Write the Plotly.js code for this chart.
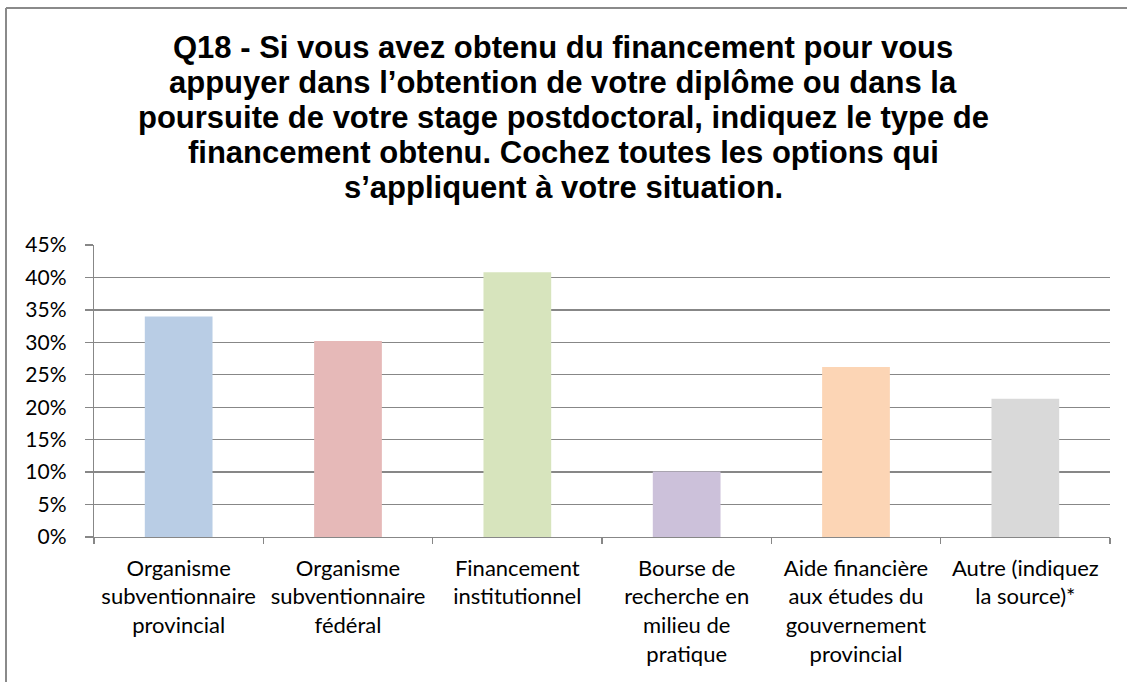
<!DOCTYPE html>
<html>
<head>
<meta charset="utf-8">
<script src="https://cdn.plot.ly/plotly-3.0.1.min.js"></script>
<style>
  html, body { margin: 0; padding: 0; background: #fff; overflow: hidden; }
  #chart { position: absolute; left: 0; top: 0; width: 1127px; height: 682px; }
</style>
</head>
<body>
<div id="chart"></div>
<script>
const categories = [
  "Organisme<br>subventionnaire<br>provincial",
  "Organisme<br>subventionnaire<br>fédéral",
  "Financement<br>institutionnel",
  "Bourse de<br>recherche en<br>milieu de<br>pratique",
  "Aide financière<br>aux études du<br>gouvernement<br>provincial",
  "Autre (indiquez<br>la source)*"
];
const values = [34.0, 30.2, 40.8, 10.1, 26.2, 21.3];
const barColors = ["#B9CDE5", "#E6B9B8", "#D7E4BD", "#CCC1DA", "#FCD5B5", "#D9D9D9"];
const yTickValues = [0, 5, 10, 15, 20, 25, 30, 35, 40, 45];
const titleLines = [
  "Q18 - Si vous avez obtenu du financement pour vous",
  "appuyer dans l’obtention de votre diplôme ou dans la",
  "poursuite de votre stage postdoctoral, indiquez le type de",
  "financement obtenu. Cochez toutes les options qui",
  "s’appliquent à votre situation."
];

// layout geometry (pixels)
const W = 1127, H = 682;
const plotL = 94, plotR = 1110, plotT = 244.5, plotB = 537;
const titleCenterX = 563;
const titleLineY = [47, 82, 117, 152, 187];
const frameX = 6, frameY = 7;

const gridColor = "#878787";
const px2x = p => (p - plotL) / (plotR - plotL);
const px2y = p => (plotB - p) / (plotB - plotT);

const trace = {
  type: "bar",
  x: categories,
  y: values,
  marker: { color: barColors, line: { width: 0 } },
  hoverinfo: "skip"
};

const annotations = titleLines.map((t, i) => ({
  text: t,
  xref: "paper", yref: "paper",
  x: px2x(titleCenterX),
  y: px2y(titleLineY[i]),
  xanchor: "center", yanchor: "middle",
  showarrow: false,
  font: { family: "Liberation Sans, Arial, sans-serif", size: 31, weight: 700, color: "#000" }
}));

const shapes = [
  { type: "line", xref: "paper", yref: "paper", x0: px2x(frameX), x1: px2x(W + 5), y0: px2y(frameY), y1: px2y(frameY),
    line: { color: "#8a8a8a", width: 2 } },
  { type: "line", xref: "paper", yref: "paper", x0: px2x(frameX), x1: px2x(frameX), y0: px2y(frameY), y1: px2y(H + 5),
    line: { color: "#8a8a8a", width: 2 } }
];

const layout = {
  width: W, height: H,
  margin: { l: plotL, r: W - plotR, t: plotT, b: H - plotB, pad: 0 },
  paper_bgcolor: "#fff",
  plot_bgcolor: "rgba(0,0,0,0)",
  showlegend: false,
  bargap: 0.6,
  annotations: annotations,
  shapes: shapes,
  xaxis: {
    type: "category",
    showgrid: false,
    showline: true, linecolor: gridColor, linewidth: 1.3,
    ticks: "outside", tickson: "boundaries", ticklen: 6, tickcolor: gridColor, tickwidth: 1.3,
    tickfont: { family: "Lato, sans-serif", size: 22, color: "#000" },
    ticklabelstandoff: 11,
    tickangle: 0,
    fixedrange: true
  },
  yaxis: {
    range: [0, 45],
    tickvals: yTickValues,
    ticktext: yTickValues.map(v => v + "%"),
    showgrid: true, gridcolor: gridColor, gridwidth: 1.3,
    showline: true, linecolor: gridColor, linewidth: 1.3,
    ticks: "outside", ticklen: 8, tickcolor: gridColor, tickwidth: 1.3,
    tickfont: { family: "Lato, sans-serif", size: 21, color: "#000" },
    ticklabelstandoff: 14,
    zeroline: false,
    fixedrange: true
  }
};

Plotly.newPlot("chart", [trace], layout, { staticPlot: true, displayModeBar: false });
</script>
</body>
</html>
